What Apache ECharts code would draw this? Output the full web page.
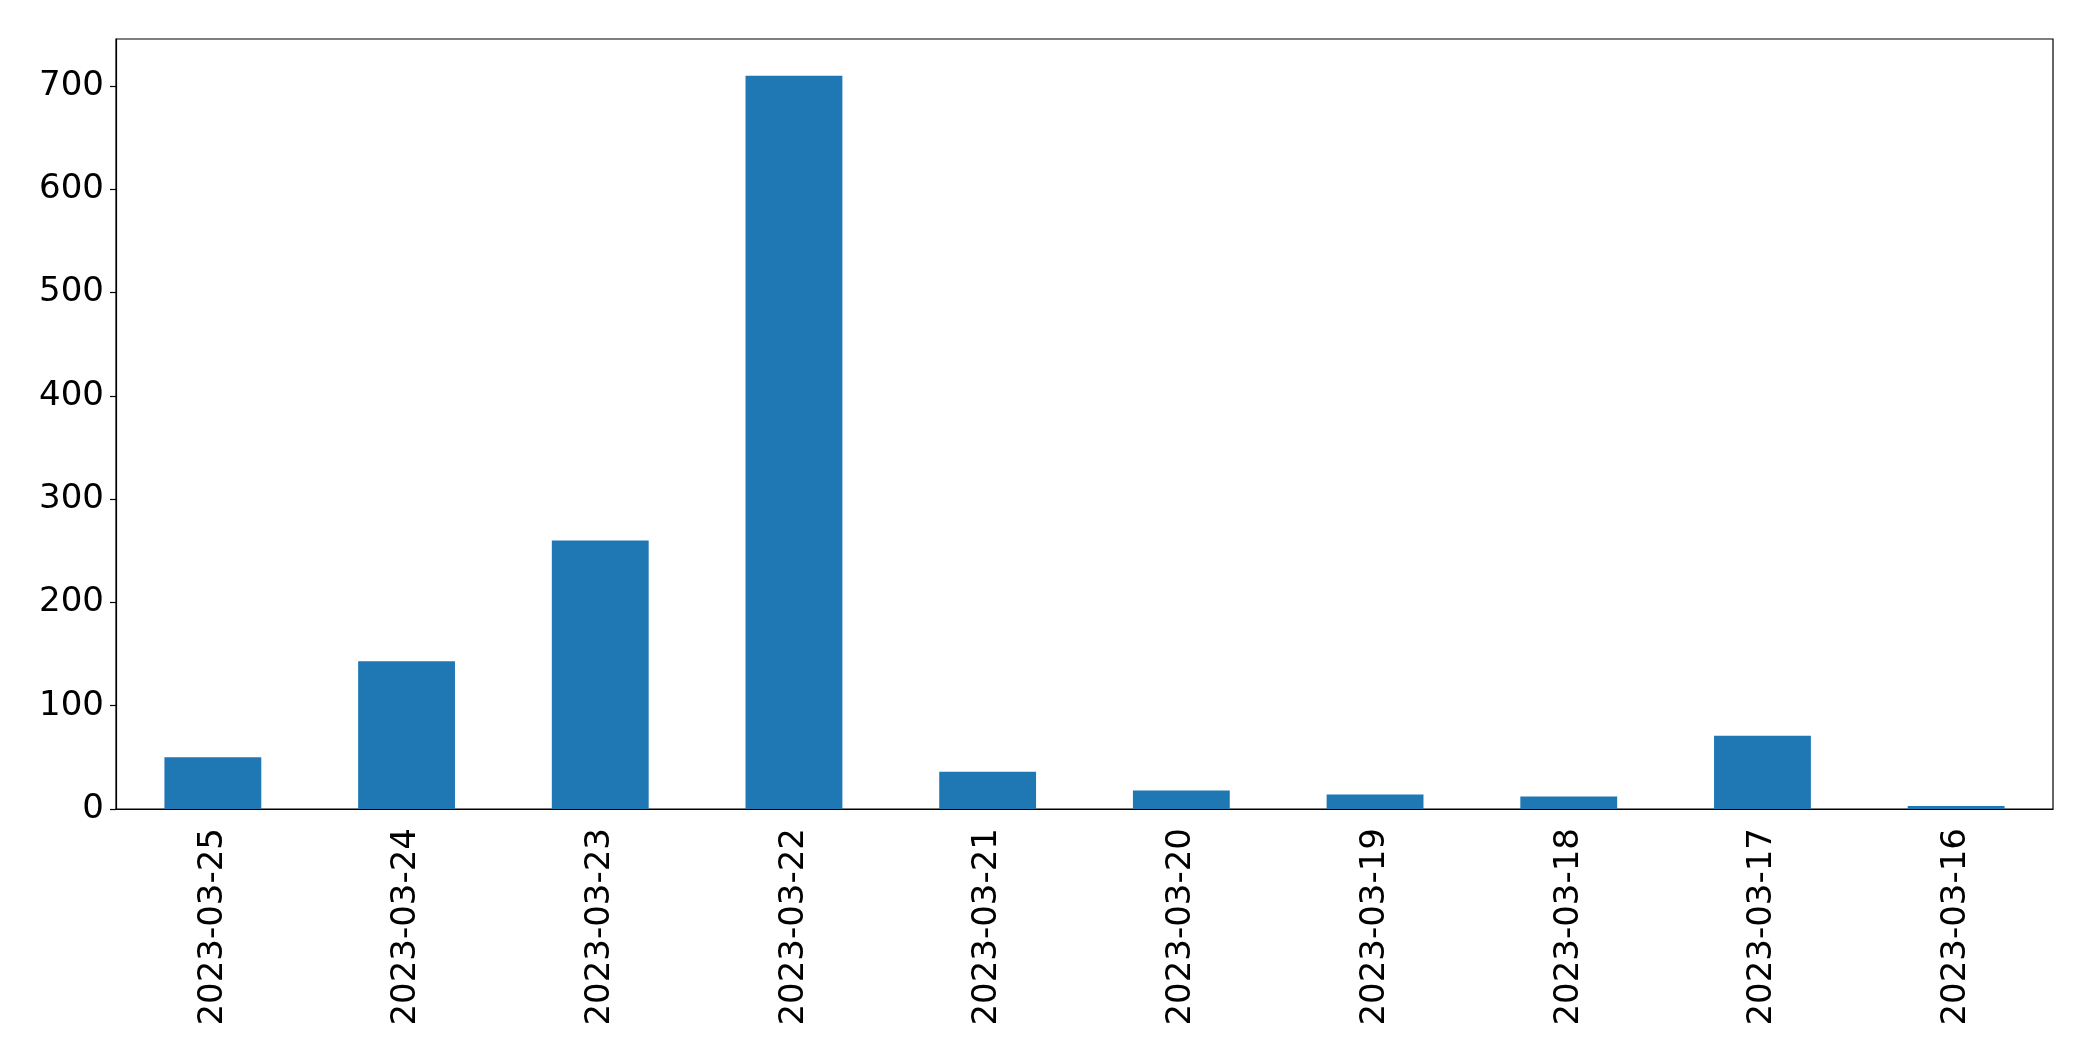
<!DOCTYPE html>
<html>
<head>
<meta charset="utf-8">
<script src="https://cdn.jsdelivr.net/npm/echarts@6/dist/echarts.min.js"></script>
<style>
html,body{margin:0;padding:0;background:#fff;}
#c{width:2093px;height:1061px;}
</style>
</head>
<body>
<div id="c"></div>
<script>
const categories = ["2023-03-25","2023-03-24","2023-03-23","2023-03-22","2023-03-21","2023-03-20","2023-03-19","2023-03-18","2023-03-17","2023-03-16"];
const values = [50, 143, 260, 710, 36, 18, 14, 12, 71, 3];
const yTicks = [0, 100, 200, 300, 400, 500, 600, 700];

const chart = echarts.init(document.getElementById('c'), null, {renderer: 'canvas'});
const FONT = 'DejaVu Sans';
chart.setOption({
  animation: false,
  backgroundColor: '#ffffff',
  grid: {
    left: 116, right: 40, top: 39, bottom: 252,
    show: true, borderColor: '#000', borderWidth: 1.2, backgroundColor: 'transparent'
  },
  xAxis: {
    type: 'category',
    data: categories,
    boundaryGap: true,
    axisLine: {lineStyle: {color: '#000', width: 1.2}},
    axisTick: {alignWithLabel: true, length: 6, lineStyle: {color: '#000', width: 1.2}},
    axisLabel: {rotate: 90, color: '#000', fontFamily: FONT, fontSize: 34, margin: 19}
  },
  yAxis: {
    type: 'value',
    min: 0, max: 745.5, interval: 100,
    splitLine: {show: false},
    axisLine: {show: true, lineStyle: {color: '#000', width: 1.2}},
    axisTick: {show: true, length: 6, lineStyle: {color: '#000', width: 1.2}},
    axisLabel: {
      color: '#000', fontFamily: FONT, fontSize: 34, margin: 12, showMaxLabel: false,
      formatter: function (v) { return yTicks.indexOf(v) >= 0 ? String(v) : ''; }
    }
  },
  series: [{
    type: 'bar',
    data: values,
    barWidth: '50%',
    itemStyle: {color: '#1f77b4'}
  }]
});
</script>
</body>
</html>
